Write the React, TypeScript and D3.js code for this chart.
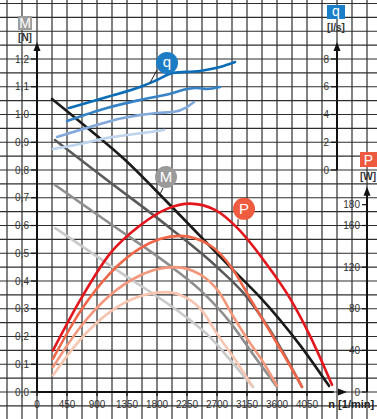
import React from 'react';
import * as d3 from 'd3';

// pump characteristic: torque M, flow q and power P against speed n, four speed settings
const torque1: [number, number][] = [[225, 1.056], [795, 0.944], [1290, 0.843], [1995, 0.674], [2940, 0.44], [3345, 0.342], [3945, 0.169], [4380, 0.022]];
const torque2: [number, number][] = [[270, 0.908], [1050, 0.764], [1995, 0.591], [2715, 0.447], [3120, 0.35], [3495, 0.223], [3975, 0.018]];
const torque3: [number, number][] = [[270, 0.746], [1095, 0.607], [2040, 0.447], [2445, 0.368], [2895, 0.252], [3270, 0.126], [3600, 0.018]];
const torque4: [number, number][] = [[270, 0.591], [1245, 0.432], [2295, 0.259], [2595, 0.198], [2925, 0.108], [3240, 0.018]];

const flow1: [number, number][] = [[480, 4.47], [1050, 5.26], [1545, 5.98], [1800, 6.49], [2040, 7.0], [2445, 7.14], [2745, 7.42], [2970, 7.78]];
const flow2: [number, number][] = [[450, 3.53], [1050, 4.47], [1545, 5.05], [2040, 5.55], [2250, 5.84], [2400, 5.91], [2550, 5.84], [2745, 5.98]];
const flow3: [number, number][] = [[300, 2.38], [795, 3.1], [1290, 3.75], [1800, 4.11], [2040, 4.18], [2250, 4.54], [2355, 4.9]];
const flow4: [number, number][] = [[240, 1.51], [645, 1.87], [1050, 2.31], [1470, 2.59], [1905, 2.88]];

const power1: [number, number][] = [[240, 40], [645, 88], [1095, 133], [1545, 160], [1950, 176], [2295, 181], [2670, 175], [3015, 157], [3420, 125], [3795, 90], [4095, 54], [4425, 7]];
const power2: [number, number][] = [[240, 32], [645, 77], [1095, 114], [1545, 138], [1845, 147], [2145, 150], [2595, 141], [2925, 119], [3195, 90], [3495, 58], [3690, 37], [3975, 5]];
const power3: [number, number][] = [[240, 24], [645, 62], [1095, 93], [1545, 112], [1800, 118], [2070, 120], [2445, 113], [2730, 96], [2940, 73], [3195, 47], [3360, 32], [3600, 6]];
const power4: [number, number][] = [[240, 16], [645, 50], [1095, 77], [1545, 92], [1935, 96], [2257, 90], [2490, 77], [2670, 59], [2895, 38], [3015, 27], [3225, 6]];

const nTicks = [0, 450, 900, 1350, 1800, 2250, 2700, 3150, 3600, 4050];
const mTicks = [0, 0.1, 0.2, 0.3, 0.4, 0.5, 0.6, 0.7, 0.8, 0.9, 1.0, 1.1, 1.2];
const qTicks = [0, 2, 4, 6, 8];
const pTicks = [0, 40, 80, 120, 160, 180];

const W = 377;
const H = 419;
const FONT = "'Liberation Sans', Arial, sans-serif";

const torqueColors = ['#1b1b1b', '#5a5a5a', '#8e8e8e', '#c9c9c9'];
const flowColors = ['#0b6db7', '#3582c6', '#80a8db', '#bed3ee'];
const powerColors = ['#e3161d', '#ee6547', '#f3977c', '#f8c5b0'];

export default function App() {
  const x = d3.scaleLinear().domain([0, 4050]).range([37, 307]);
  const yM = d3.scaleLinear().domain([0, 1.2]).range([392, 59]);
  const yQ = d3.scaleLinear().domain([0, 8]).range([yM(0.8), yM(1.2)]);
  const yP = d3.scaleLinear().domain([0, 160]).range([yM(0), yM(0.6)]);

  const lineM = d3.line<[number, number]>().x(d => x(d[0])).y(d => yM(d[1])).curve(d3.curveMonotoneX);
  const lineQ = d3.line<[number, number]>().x(d => x(d[0])).y(d => yQ(d[1])).curve(d3.curveMonotoneX);
  const lineP = d3.line<[number, number]>().x(d => x(d[0])).y(d => yP(d[1])).curve(d3.curveMonotoneX);

  const gridX = d3.range(-2, 23).map(k => x(k * 225));
  const gridY = d3.range(-2, 29).map(k => yM(k * 0.05));

  const comma = (v: number) => d3.format('.1f')(v).replace('.', ',');

  const axisX = x(0);
  const qAxisX = x(4500);
  const pAxisX = x(4950);
  const arrowTop = 42;

  const upArrow = (cx: number, tip: number) => `M${cx},${tip} L${cx - 3.5},${tip + 9} L${cx + 3.5},${tip + 9} Z`;

  const torques = [torque4, torque3, torque2, torque1];
  const flows = [flow4, flow3, flow2, flow1];
  const powers = [power4, power3, power2, power1];

  return (
    <svg width={W} height={H} style={{ position: 'absolute', left: 0, top: 0, background: '#fff' }} fontFamily={FONT}>
      <rect width={W} height={H} fill="#fff" />
      <g stroke="#2e2e2e" strokeWidth={1.2}>
        {gridX.map((gx, i) => <line key={'gx' + i} x1={gx} x2={gx} y1={0} y2={H} />)}
        {gridY.map((gy, i) => <line key={'gy' + i} x1={0} x2={W} y1={gy} y2={gy} />)}
      </g>

      {torques.map((d, i) => (
        <path key={'m' + i} d={lineM(d) || ''} fill="none" stroke={torqueColors[3 - i]} strokeWidth={2.6} strokeLinecap="round" />
      ))}
      {powers.map((d, i) => (
        <path key={'p' + i} d={lineP(d) || ''} fill="none" stroke={powerColors[3 - i]} strokeWidth={2.6} strokeLinecap="round" />
      ))}
      {flows.map((d, i) => (
        <path key={'q' + i} d={lineQ(d) || ''} fill="none" stroke={flowColors[3 - i]} strokeWidth={2.6} strokeLinecap="round" />
      ))}

      {/* axes */}
      <g stroke="#111" strokeWidth={2}>
        <line x1={axisX} x2={axisX} y1={yM(0)} y2={arrowTop + 6} />
        <line x1={axisX} x2={x(4450)} y1={yM(0)} y2={yM(0)} />
        <line x1={qAxisX} x2={qAxisX} y1={yQ(0)} y2={arrowTop + 6} />
        <line x1={pAxisX} x2={pAxisX} y1={yP(0)} y2={yP(180) - 12} />
      </g>
      <g fill="#111">
        <path d={upArrow(axisX, arrowTop)} />
        <path d={upArrow(qAxisX, arrowTop)} />
        <path d={upArrow(pAxisX, yP(180) - 18)} />
        <path d={`M${x(4650)},${yM(0)} L${x(4650) - 9},${yM(0) - 3.5} L${x(4650) - 9},${yM(0) + 3.5} Z`} />
      </g>

      {/* M ticks */}
      <g fontSize={10} fill="#333" stroke="none">
        {mTicks.map(t => (
          <g key={'mt' + t}>
            <line x1={axisX - 6} x2={axisX} y1={yM(t)} y2={yM(t)} stroke="#111" strokeWidth={1.2} />
            <text x={axisX - 8} y={yM(t) + 3.5} textAnchor="end">{comma(t)}</text>
          </g>
        ))}
        {qTicks.map(t => (
          <g key={'qt' + t}>
            <line x1={qAxisX - 6} x2={qAxisX} y1={yQ(t)} y2={yQ(t)} stroke="#111" strokeWidth={1.2} />
            <text x={qAxisX - 8} y={yQ(t) + 3.5} textAnchor="end">{t}</text>
          </g>
        ))}
        {pTicks.map(t => (
          <g key={'pt' + t}>
            <line x1={pAxisX - 5} x2={pAxisX} y1={yP(t)} y2={yP(t)} stroke="#111" strokeWidth={1.2} />
            <text x={pAxisX - 7} y={yP(t) + 3.5} textAnchor="end">{t}</text>
          </g>
        ))}
        {nTicks.map(t => (
          <g key={'nt' + t}>
            <line x1={x(t)} x2={x(t)} y1={yM(0)} y2={yM(0) + 4} stroke="#111" strokeWidth={1.2} />
            <text x={x(t)} y={yM(0) + 16} textAnchor="middle">{t}</text>
          </g>
        ))}
        <text x={x(4370)} y={yM(0) + 16} fontSize={11} fontWeight="bold" fill="#222">n [1/min]</text>
      </g>

      {/* axis titles */}
      <rect x={18} y={16} width={14} height={14} fill="#9d9d9d" />
      <text x={25} y={28} textAnchor="middle" fontSize={14} fill="#fff">M</text>
      <text x={25} y={41} textAnchor="middle" fontSize={10} fontWeight="bold" fill="#333">[N]</text>

      <rect x={qAxisX - 10} y={5} width={18} height={14} fill="#1a7fc8" />
      <text x={qAxisX - 1} y={16} textAnchor="middle" fontSize={14} fill="#fff">q</text>
      <text x={qAxisX - 1} y={31} textAnchor="middle" fontSize={10} fontWeight="bold" fill="#333">[l/s]</text>

      <rect x={pAxisX - 7} y={152} width={17} height={15} fill="#ee5a3f" />
      <text x={pAxisX + 1.5} y={165} textAnchor="middle" fontSize={14} fill="#fff">P</text>
      <text x={pAxisX + 1} y={180} textAnchor="middle" fontSize={10} fontWeight="bold" fill="#333">[W]</text>

      {/* callouts */}
      <line x1={x(1800)} x2={x(1695)} y1={yM(1.16)} y2={yM(1.114)} stroke="#222" strokeWidth={1} />
      <circle cx={x(1950)} cy={yM(1.186)} r={11} fill="#1c7cc4" />
      <text x={x(1950)} y={yM(1.186) + 4} textAnchor="middle" fontSize={15} fill="#fff">q</text>

      <line x1={x(1890)} x2={x(1850)} y1={yM(0.735)} y2={yM(0.715)} stroke="#222" strokeWidth={1} />
      <circle cx={x(1935)} cy={yM(0.775)} r={11} fill="#9a9a9a" />
      <text x={x(1935)} y={yM(0.775) + 5.5} textAnchor="middle" fontSize={15} fill="#fff">M</text>

      <line x1={x(3015)} x2={x(3015)} y1={yP(166)} y2={yP(160)} stroke="#222" strokeWidth={1} />
      <circle cx={x(3105)} cy={yP(176)} r={11} fill="#ef5b3e" />
      <text x={x(3105)} y={yP(176) + 5.5} textAnchor="middle" fontSize={15} fill="#fff">P</text>
    </svg>
  );
}
